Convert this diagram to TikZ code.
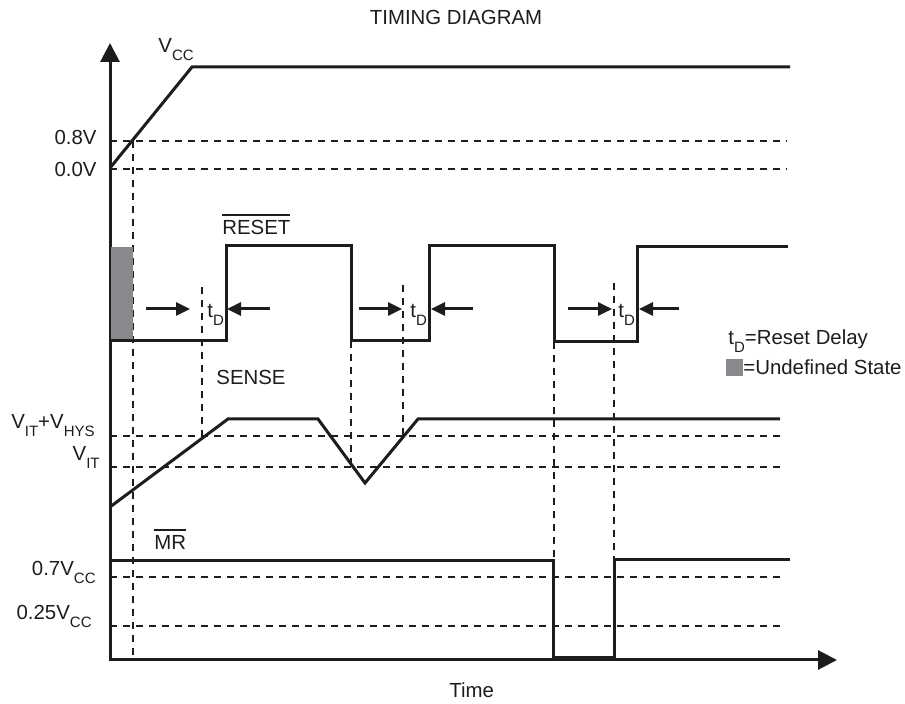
\documentclass[tikz,border=0pt]{standalone}
\usepackage{fontspec}
\setmainfont{Liberation Sans}
\usepackage{tikz}
\usetikzlibrary{arrows.meta}
\definecolor{undefgray}{RGB}{137,137,141}
\definecolor{inkblack}{RGB}{30,28,29}
\newcommand{\lowsub}[1]{\raisebox{-4pt}{\fontsize{7.5}{9}\selectfont #1}}
\newcommand{\barred}[1]{\setbox0\hbox{#1}\rlap{\rule[\dimexpr\ht0+2.6pt\relax]{\wd0}{0.7pt}}\box0}
\tikzset{
  signal/.style = {draw=inkblack, line width=1.5pt, line join=miter},
  guide/.style  = {draw=inkblack, line width=1.4pt, dash pattern=on 3.5pt off 3pt},
  axis/.style   = {draw=inkblack, line width=1.5pt, {Triangle[length=9.5pt, width=9.5pt]}-{Triangle[length=9.5pt, width=9.5pt]}},
  delay/.style  = {draw=inkblack, line width=1.5pt, -{Triangle[length=7pt, width=6.5pt]}},
  lbl/.style    = {inner sep=0pt, text=inkblack},
}
\begin{document}
\begin{tikzpicture}[x=0.5pt, y=-0.5pt, every node/.style={font=\fontsize{10.2}{12}\selectfont}]
    \useasboundingbox (0,0) rectangle (905,704);

    % title and axes
    \node[lbl] (title) at (456,17) {TIMING DIAGRAM};
    \draw[axis] (110,43) -- (110,660) -- (837,660);
    \node[lbl, anchor=base west] (time) at (449,698) {Time};

    % supply
    \draw[guide] (110,141) -- (787,141);
    \draw[guide] (110,169) -- (787,169);
    \draw[guide] (133,141) -- (133,660);
    \draw[signal] (110,168) -- (192,67) -- (790,67);
    \node[lbl, anchor=base west] (vcc) at (158,53) {V\lowsub{CC}};
    \node[lbl, anchor=base east] (v08) at (97,145) {0.8V};
    \node[lbl, anchor=base east] (v00) at (97,177) {0.0V};

    % reset output
    \fill[undefgray] (111,247) rectangle (133,339);
    \draw[signal] (110,341) -- (226,341) -- (226,246) -- (351,246) -- (351,341)
      -- (429,341) -- (429,246) -- (554,246) -- (554,342) -- (637,342)
      -- (637,247) -- (788,247);
    \node[lbl, anchor=base west] (reset) at (222,235) {\barred{RESET}};

    % delay markers
    \draw[guide] (202,287) -- (202,436);
    \draw[guide] (351,341) -- (351,467);
    \draw[guide] (403,285) -- (403,436);
    \draw[guide] (554,342) -- (554,561);
    \draw[guide] (614,283) -- (614,561);
    \foreach \ra/\rb/\la/\lb/\xt [count=\n] in
      {146/190/270/227/207, 359/402/473/431/410, 568/612/679/639/618}{
      \coordinate (rin\n) at (\ra,309);
      \coordinate (rtip\n) at (\rb,309);
      \coordinate (lin\n) at (\la,309);
      \coordinate (ltip\n) at (\lb,309);
      \draw[delay] (rin\n) -- (rtip\n);
      \draw[delay] (lin\n) -- (ltip\n);
      \node[lbl, anchor=base west] (td\n) at (\xt,318) {t\lowsub{D}};
    }

    % legend
    \node[lbl, anchor=base west] (keytd) at (728,345) {t\lowsub{D}=Reset Delay};
    \fill[undefgray] (726,359) rectangle (743,376);
    \node[lbl, anchor=base west] (keyundef) at (743,375) {=Undefined State};

    % sense input
    \draw[guide] (110,436) -- (785,436);
    \draw[guide] (110,467) -- (785,467);
    \draw[signal] (110,507) -- (228,419) -- (318,419) -- (365,483) -- (418,419) -- (780,419);
    \node[lbl, anchor=base west] (sense) at (216,385) {SENSE};
    \node[lbl, anchor=base east] (vhys) at (95,429) {V\lowsub{IT}+V\lowsub{HYS}};
    \node[lbl, anchor=base east] (vit) at (100,461) {V\lowsub{IT}};

    % manual reset
    \draw[guide] (110,577) -- (785,577);
    \draw[guide] (110,626) -- (785,626);
    \draw[signal] (110,561) -- (553,561) -- (553,658) -- (614,658) -- (614,560) -- (790,560);
    \node[lbl, anchor=base west] (mr) at (154,550) {\barred{MR}};
    \node[lbl, anchor=base east] (v07) at (96,576) {0.7V\lowsub{CC}};
    \node[lbl, anchor=base east] (v025) at (92,620) {0.25V\lowsub{CC}};
\end{tikzpicture}
\end{document}
